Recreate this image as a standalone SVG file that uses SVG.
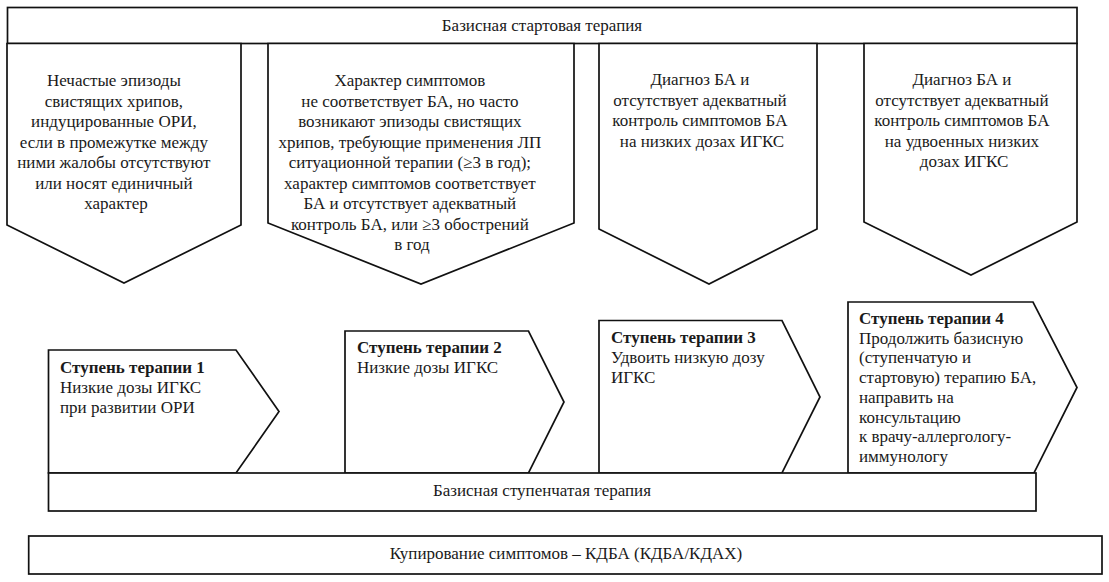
<svg xmlns="http://www.w3.org/2000/svg" width="1109" height="582" viewBox="0 0 1109 582">
<style>
.sh{fill:#fff;stroke:#111;stroke-width:1.7;stroke-linejoin:miter}
text{font-family:"Liberation Serif","Times New Roman",serif;font-size:17px;fill:#1a1a1a}
.c{text-anchor:middle}
.b{font-weight:bold}
</style>
<rect width="1109" height="582" fill="#fff"/>
<g id="start-bar">
<rect class="sh" x="7.5" y="7.5" width="1069.5" height="36"/>
<text class="c" x="542" y="31">Базисная стартовая терапия</text>
</g>
<g id="cond1">
<polygon class="sh" points="7,43.5 241,43.5 241,225 124,283 7,225"/>
<text class="c" x="116">
<tspan x="116" y="86">Нечастые эпизоды</tspan>
<tspan x="116" y="106.5">свистящих хрипов,</tspan>
<tspan x="116" y="127">индуцированные ОРИ,</tspan>
<tspan x="116" y="147.5">если в промежутке между</tspan>
<tspan x="116" y="168">ними жалобы отсутствуют</tspan>
<tspan x="116" y="188.5">или носят единичный</tspan>
<tspan x="116" y="209">характер</tspan>
</text>
</g>
<g id="cond2">
<polygon class="sh" points="268,43.5 574,43.5 574,223 421,284 268,223"/>
<text class="c" x="412">
<tspan x="412" y="86">Характер симптомов</tspan>
<tspan x="412" y="106.5">не соответствует БА, но часто</tspan>
<tspan x="412" y="127">возникают эпизоды свистящих</tspan>
<tspan x="412" y="147.5">хрипов, требующие применения ЛП</tspan>
<tspan x="412" y="168">ситуационной терапии (≥3 в год);</tspan>
<tspan x="412" y="188.5">характер симптомов соответствует</tspan>
<tspan x="412" y="209">БА и отсутствует адекватный</tspan>
<tspan x="412" y="229.5">контроль БА, или ≥3 обострений</tspan>
<tspan x="412" y="250">в год</tspan>
</text>
</g>
<g id="cond3">
<polygon class="sh" points="599,43.5 817,43.5 817,229 709,284 599,229"/>
<text class="c" x="702">
<tspan x="702" y="85">Диагноз БА и</tspan>
<tspan x="702" y="105.5">отсутствует адекватный</tspan>
<tspan x="702" y="126">контроль симптомов БА</tspan>
<tspan x="702" y="146.5">на низких дозах ИГКС</tspan>
</text>
</g>
<g id="cond4">
<polygon class="sh" points="864,43.5 1077,43.5 1077,222 971,275 864,222"/>
<text class="c" x="964">
<tspan x="964" y="85">Диагноз БА и</tspan>
<tspan x="964" y="105.5">отсутствует адекватный</tspan>
<tspan x="964" y="126">контроль симптомов БА</tspan>
<tspan x="964" y="146.5">на удвоенных низких</tspan>
<tspan x="964" y="167">дозах ИГКС</tspan>
</text>
</g>
<g id="step1">
<polygon class="sh" points="48.5,350 236,350 279,411.5 236,473 48.5,473"/>
<text x="60">
<tspan class="b" x="60" y="372.5">Ступень терапии 1</tspan>
<tspan x="60" y="392.5">Низкие дозы ИГКС</tspan>
<tspan x="60" y="412.5">при развитии ОРИ</tspan>
</text>
</g>
<g id="step2">
<polygon class="sh" points="345,331 528.5,331 564,402 528.5,473 345,473"/>
<text x="357">
<tspan class="b" x="357" y="353">Ступень терапии 2</tspan>
<tspan x="357" y="373">Низкие дозы ИГКС</tspan>
</text>
</g>
<g id="step3">
<polygon class="sh" points="599,320.5 782,320.5 820,397 782,473 599,473"/>
<text x="611">
<tspan class="b" x="611" y="342.5">Ступень терапии 3</tspan>
<tspan x="611" y="362.5">Удвоить низкую дозу</tspan>
<tspan x="611" y="382.5">ИГКС</tspan>
</text>
</g>
<g id="step4">
<polygon class="sh" points="848,302 1033,302 1077,387.5 1034,473 848,473"/>
<text x="859">
<tspan class="b" x="859" y="324">Ступень терапии 4</tspan>
<tspan x="859" y="343.5">Продолжить базисную</tspan>
<tspan x="859" y="363">(ступенчатую и</tspan>
<tspan x="859" y="383">стартовую) терапию БА,</tspan>
<tspan x="859" y="402.5">направить на</tspan>
<tspan x="859" y="422.5">консультацию</tspan>
<tspan x="859" y="442">к врачу-аллергологу-</tspan>
<tspan x="859" y="461.5">иммунологу</tspan>
</text>
</g>
<g id="step-bar">
<rect class="sh" x="48.5" y="473" width="987.5" height="38"/>
<text class="c" x="542" y="496">Базисная ступенчатая терапия</text>
</g>
<g id="relief-bar">
<rect class="sh" x="28.7" y="536" width="1073.3" height="38"/>
<text class="c" x="566" y="559">Купирование симптомов – КДБА (КДБА/КДАХ)</text>
</g>
<g id="connectors"></g>
</svg>
